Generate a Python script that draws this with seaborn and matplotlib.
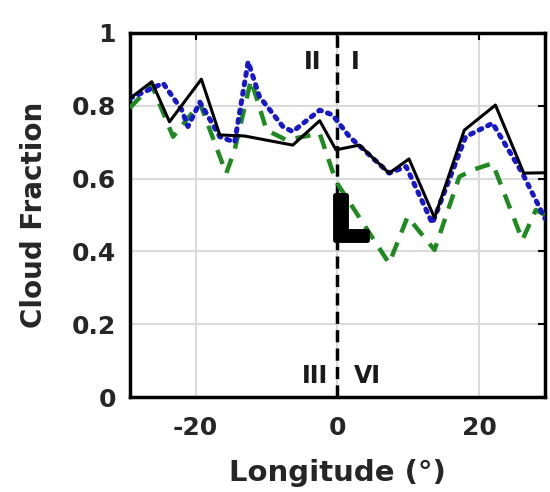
import matplotlib
matplotlib.use("Agg")
import matplotlib.pyplot as plt
import matplotlib.patheffects as pe
import seaborn as sns

# Data
black_lon = [-29.3, -26.2, -23.7, -19.2, -16.6, -13.1, -6.3, -2.5, -0.2, 3.1, 7.3, 10.1, 13.7, 17.9, 22.3, 26.3, 29.3]
black_cf = [0.82, 0.866, 0.756, 0.873, 0.72, 0.717, 0.692, 0.759, 0.679, 0.692, 0.615, 0.654, 0.492, 0.733, 0.802, 0.615, 0.616]

blue_lon = [-29.3, -24.6, -22.0, -21.1, -19.4, -16.6, -14.5, -12.6, -11.0, -7.7, -6.3, -2.5, -0.7, 1.7, 7.3, 9.7, 13.4, 18.1, 21.9, 26.1, 29.3]
blue_cf = [0.82, 0.862, 0.79, 0.743, 0.81, 0.715, 0.70, 0.921, 0.825, 0.743, 0.729, 0.788, 0.775, 0.715, 0.615, 0.633, 0.477, 0.715, 0.752, 0.615, 0.49]

green_lon = [-29.3, -26.2, -23.2, -19.4, -15.7, -14.5, -12.2, -10.0, -7.2, -2.5, -0.2, 7.3, 9.9, 13.7, 17.2, 19.1, 21.9, 26.1, 28.0, 29.3]
green_cf = [0.794, 0.857, 0.715, 0.807, 0.614, 0.679, 0.871, 0.733, 0.706, 0.724, 0.592, 0.367, 0.495, 0.404, 0.605, 0.624, 0.642, 0.431, 0.514, 0.50]

x_ticks = [-20, 0, 20]
y_ticks = [0, 0.2, 0.4, 0.6, 0.8, 1.0]
y_tick_labels = ["0", "0.2", "0.4", "0.6", "0.8", "1"]
quadrant_labels = [("II", -3.5, 0.92), ("I", 2.5, 0.92), ("III", -3.2, 0.058), ("VI", 4.2, 0.058)]

sns.set_theme(style="white")
plt.rcParams["font.family"] = ["DejaVu Sans"]
plt.rcParams["font.weight"] = "bold"
plt.rcParams["axes.unicode_minus"] = False
text_color = "#262626"

fig = plt.figure(figsize=(5.5, 4.92), dpi=100)
ax = fig.add_axes([0.236, 0.193, 0.755, 0.740])

ax.grid(True, color="#dadada", lw=1.5, zorder=0)
ax.set_axisbelow(True)

ax.axvline(0, color="black", lw=2.5, ls=(0, (3.5, 1.8)), zorder=3)

sns.lineplot(x=green_lon, y=green_cf, ax=ax, color="#1f8a1f", lw=3.2,
             estimator=None, sort=False, zorder=4, linestyle=(0, (3.4, 2.4)))
sns.lineplot(x=blue_lon, y=blue_cf, ax=ax, color="#1818c8", lw=3.6,
             estimator=None, sort=False, zorder=5, linestyle=(0, (0.6, 1.3)),
             dash_capstyle="round")
sns.lineplot(x=black_lon, y=black_cf, ax=ax, color="black", lw=2.2,
             estimator=None, sort=False, zorder=6)

for lab, xx, yy in quadrant_labels:
    ax.text(xx, yy, lab, ha="center", va="center", fontsize=17, fontweight="bold",
            color="#1a1a1a", zorder=7)

ax.text(1.6, 0.432, "L", ha="center", va="baseline", fontsize=44, fontweight="bold",
        color="black", zorder=8,
        path_effects=[pe.withStroke(linewidth=3.5, foreground="black")])

ax.set_xlim(-29.3, 29.3)
ax.set_ylim(0, 1)
ax.set_xticks(x_ticks)
ax.set_yticks(y_ticks)
ax.set_yticklabels(y_tick_labels)
ax.tick_params(axis="both", direction="in", length=5, width=1.5, labelsize=18,
               colors="black", labelcolor=text_color, top=True, right=True)
ax.tick_params(axis="x", pad=14)
ax.tick_params(axis="y", pad=10)
for lbl in ax.get_xticklabels() + ax.get_yticklabels():
    lbl.set_fontweight("bold")
for sp in ax.spines.values():
    sp.set_color("black")
    sp.set_linewidth(2.5)

ax.set_xlabel("Longitude (°)", fontsize=21, fontweight="bold", color=text_color, labelpad=13)
ax.set_ylabel("Cloud Fraction", fontsize=20, fontweight="bold", color=text_color, labelpad=17)

fig.savefig("out.png", dpi=100)
